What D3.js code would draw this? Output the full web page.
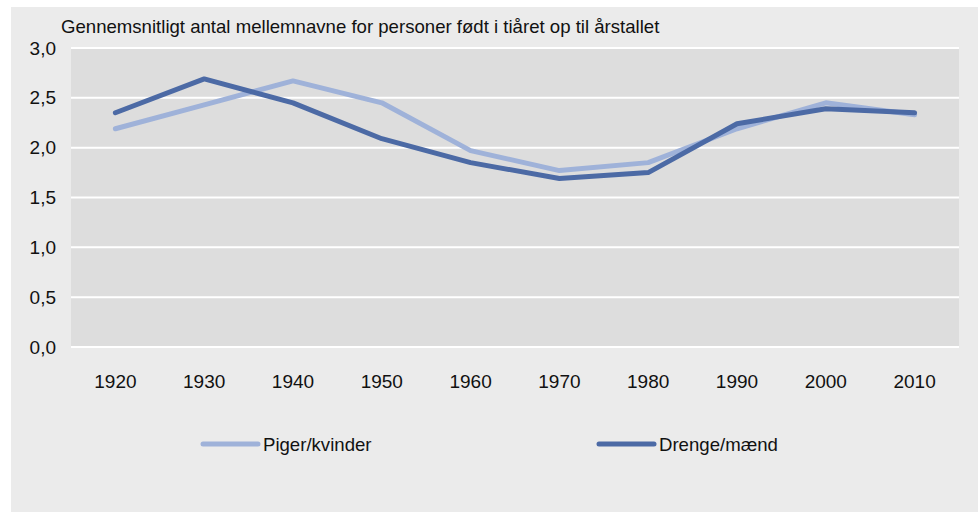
<!DOCTYPE html>
<html>
<head>
  <script src="https://d3js.org/d3.v7.min.js"></script>
  <style type="text/css">
    body { margin: 0; background: #fff; }
    text { font-family: "Liberation Sans Narrow", "Arial Narrow", sans-serif; fill: #111; }
  </style>
</head>
<body>
<svg id="chart" width="978" height="512"></svg>

<script type="text/javascript">
// gennemsnitligt antal mellemnavne pr. tiår
const years = ['1920', '1930', '1940', '1950', '1960', '1970', '1980', '1990', '2000', '2010'];
const piger = [2.19, 2.43, 2.67, 2.45, 1.97, 1.77, 1.85, 2.19, 2.45, 2.33];
const drenge = [2.35, 2.69, 2.45, 2.09, 1.85, 1.69, 1.75, 2.24, 2.39, 2.35];
const yTicks = [0, 0.5, 1, 1.5, 2, 2.5, 3];
const seriesNames = ['Piger/kvinder', 'Drenge/mænd'];
const colors = ['#9fb2d9', '#4c6aa5'];

const svg = d3.select('#chart');

svg.append('rect')
  .attr('x', 11).attr('y', 7)
  .attr('width', 967).attr('height', 505)
  .attr('fill', '#ebebeb');

const plot = { left: 71, right: 959, top: 48, bottom: 347 };

const x = d3.scaleBand().domain(years).range([plot.left, plot.right]);
const y = d3.scaleLinear().domain([0, 3]).range([plot.bottom, plot.top]);

svg.append('rect')
  .attr('x', plot.left).attr('y', plot.top)
  .attr('width', plot.right - plot.left).attr('height', plot.bottom - plot.top)
  .attr('fill', '#dddddd');

// gridlines
svg.selectAll('.grid').data(yTicks)
  .enter().append('line')
  .attr('x1', plot.left).attr('x2', plot.right)
  .attr('y1', d => y(d)).attr('y2', d => y(d))
  .attr('stroke', '#fff').attr('stroke-width', 2);

// y labels
svg.selectAll('.ylab').data(yTicks)
  .enter().append('text')
  .attr('x', 56).attr('y', d => y(d))
  .attr('dy', '0.35em')
  .attr('text-anchor', 'end')
  .style('font-size', '19px')
  .text(d => d3.format('.1f')(d).replace('.', ','));

// x labels
svg.selectAll('.xlab').data(years)
  .enter().append('text')
  .attr('x', d => x(d) + x.bandwidth() / 2).attr('y', 381)
  .attr('dy', '0.35em')
  .attr('text-anchor', 'middle')
  .style('font-size', '19px')
  .text(d => d);

svg.append('text')
  .attr('x', 61).attr('y', 33)
  .style('font-size', '18.6px')
  .text('Gennemsnitligt antal mellemnavne for personer født i tiåret op til årstallet');

const line = d3.line()
  .x((d, i) => x(years[i]) + x.bandwidth() / 2)
  .y(d => y(d));

[piger, drenge].forEach((s, k) => {
  svg.append('path')
    .attr('d', line(s))
    .attr('fill', 'none')
    .attr('stroke', colors[k])
    .attr('stroke-width', 5)
    .attr('stroke-linejoin', 'round')
    .attr('stroke-linecap', 'round');
});

// legend
const legX = [203, 599];
seriesNames.forEach((name, k) => {
  svg.append('line')
    .attr('x1', legX[k]).attr('x2', legX[k] + 55)
    .attr('y1', 444).attr('y2', 444)
    .attr('stroke', colors[k]).attr('stroke-width', 5)
    .attr('stroke-linecap', 'round');
  svg.append('text')
    .attr('x', legX[k] + 60).attr('y', 444)
    .attr('dy', '0.35em')
    .style('font-size', '18.6px')
    .text(name);
});
</script>
</body>
</html>
